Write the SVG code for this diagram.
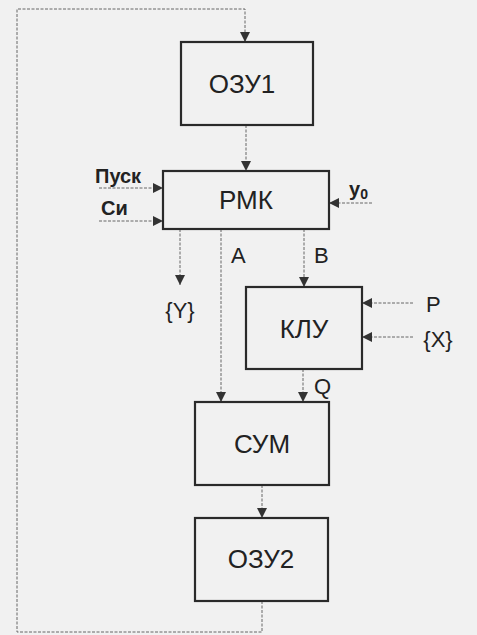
<svg xmlns="http://www.w3.org/2000/svg" width="477" height="635" viewBox="0 0 477 635">
<defs>
<style>
.box{fill:none;stroke:#2a2a2a;stroke-width:2.2}
.lbl{font-family:"Liberation Sans",Arial,sans-serif;font-size:26px;fill:#222;text-anchor:middle}
.sig{font-family:"Liberation Sans",Arial,sans-serif;font-size:22px;fill:#222}
.sigb{font-family:"Liberation Sans",Arial,sans-serif;font-size:20px;font-weight:bold;fill:#222}
.wire{fill:none;stroke:#666;stroke-width:1;stroke-dasharray:3 1.5}
</style>
<marker id="ah" viewBox="0 0 10 10" refX="10" refY="5" markerWidth="10" markerHeight="10" markerUnits="userSpaceOnUse" orient="auto">
<path d="M0,0 L10,5 L0,10 Z" fill="#333"/>
</marker>
</defs>
<rect width="477" height="635" fill="#f1f1f1"/>
<g id="connectors">
<path class="wire" d="M262,601 V632 H17 V9 H245 V42" marker-end="url(#ah)"/>
<path class="wire" d="M246,125 V171" marker-end="url(#ah)"/>
<path class="wire" d="M99,188 H163" marker-end="url(#ah)"/>
<path class="wire" d="M99,221 H163" marker-end="url(#ah)"/>
<path class="wire" d="M372,203 H329" marker-end="url(#ah)"/>
<path class="wire" d="M180,229 V285" marker-end="url(#ah)"/>
<path class="wire" d="M221,229 V402" marker-end="url(#ah)"/>
<path class="wire" d="M304,229 V287" marker-end="url(#ah)"/>
<path class="wire" d="M413,303 H362" marker-end="url(#ah)"/>
<path class="wire" d="M413,337 H362" marker-end="url(#ah)"/>
<path class="wire" d="M303,369 V402" marker-end="url(#ah)"/>
<path class="wire" d="M262,485 V518" marker-end="url(#ah)"/>
</g>
<g id="ozu1"><rect class="box" x="181" y="42" width="132" height="83"/><text class="lbl" x="242" y="93">ОЗУ1</text></g>
<g id="rmk"><rect class="box" x="163" y="171" width="166" height="58"/><text class="lbl" x="246" y="209">РМК</text></g>
<g id="klu"><rect class="box" x="246" y="287" width="116" height="82"/><text class="lbl" x="304" y="338">КЛУ</text></g>
<g id="sum"><rect class="box" x="195" y="402" width="134" height="83"/><text class="lbl" x="262" y="453">СУМ</text></g>
<g id="ozu2"><rect class="box" x="195" y="518" width="133" height="83"/><text class="lbl" x="261" y="568">ОЗУ2</text></g>
<g id="labels">
<text class="sigb" x="95" y="183">Пуск</text>
<text class="sigb" x="101" y="215">Си</text>
<text class="sigb" x="349" y="196" font-size="22">у<tspan font-size="14" dy="3">0</tspan></text>
<text class="sig" x="180" y="318" text-anchor="middle">{Y}</text>
<text class="sig" x="231" y="263">А</text>
<text class="sig" x="314" y="263">В</text>
<text class="sig" x="426" y="312">Р</text>
<text class="sig" x="438" y="347" text-anchor="middle">{X}</text>
<text class="sig" x="314" y="394">Q</text>
</g>
</svg>
